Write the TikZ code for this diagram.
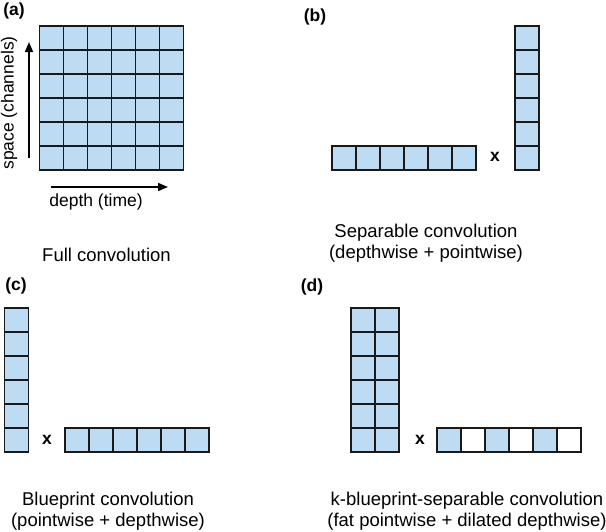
\documentclass[tikz,border=0pt]{standalone}
\usepackage{fontspec}
\setmainfont{Liberation Sans}
\usetikzlibrary{arrows.meta}
\definecolor{cellblue}{RGB}{189,220,243}
\definecolor{edge}{RGB}{25,25,25}
\begin{document}
\begin{tikzpicture}[x=1pt,y=-1pt,
  cell/.style={draw=edge, line width=1.7pt, fill=cellblue},
  emptycell/.style={draw=edge, line width=1.7pt, fill=white},
  lbl/.style={font=\fontsize{17.5}{20}\selectfont\bfseries, inner sep=0},
  timesx/.style={font=\fontsize{17.5}{20}\selectfont\bfseries, inner sep=0},
  captext/.style={font=\fontsize{18.5}{21}\selectfont, inner sep=0, anchor=base},
  axislbl/.style={font=\fontsize{17.5}{20}\selectfont, inner sep=0},
  axis/.style={line width=1.6pt, -{Triangle[length=10pt,width=8pt]}}]
\useasboundingbox (0,0) rectangle (606,531);

% ---------- (a) ----------
\node[lbl] (la) at (14,11) {(a)};
\foreach \i in {0,...,5}
  \foreach \j in {0,...,5}
    \draw[cell] (39.5+24*\i,26+24*\j) rectangle ++(24,24);
\coordinate (va) at (29,158);
\coordinate (vb) at (29,42);
\coordinate (ha) at (51,187);
\coordinate (hb) at (168,187);
\draw[axis] (va) -- (vb);
\draw[axis] (ha) -- (hb);
\node[axislbl, rotate=90] (space) at (9,103) {space (channels)};
\node[axislbl] (depth) at (96,202) {depth (time)};
\node[captext] (capa) at (106.5,261.5) {Full convolution};

% ---------- (b) ----------
\node[lbl] (lb) at (315,17) {(b)};
\foreach \i in {0,...,5}
  \draw[cell] (332+24*\i,146) rectangle ++(24,24);
\node[timesx] (xb) at (495,157) {x};
\foreach \j in {0,...,5}
  \draw[cell] (515,26+24*\j) rectangle ++(24,24);
\node[captext] (capb1) at (426,237) {Separable convolution};
\node[captext] (capb2) at (426,258) {(depthwise + pointwise)};

% ---------- (c) ----------
\node[lbl] (lc) at (16,286) {(c)};
\foreach \j in {0,...,5}
  \draw[cell] (4.5,308+24*\j) rectangle ++(24,24);
\node[timesx] (xc) at (47,440) {x};
\foreach \i in {0,...,5}
  \draw[cell] (65+24*\i,428) rectangle ++(24,24);
\node[captext] (capc1) at (108,505) {Blueprint convolution};
\node[captext] (capc2) at (108,526) {(pointwise + depthwise)};

% ---------- (d) ----------
\node[lbl] (ld) at (312,287) {(d)};
\foreach \i in {0,1}
  \foreach \j in {0,...,5}
    \draw[cell] (351+24*\i,308+24*\j) rectangle ++(24,24);
\node[timesx] (xd) at (420,440) {x};
\foreach \i/\s in {0/cell,1/emptycell,2/cell,3/emptycell,4/cell,5/emptycell}
  \draw[\s] (437+24*\i,428) rectangle ++(24,24);
\node[captext] (capd1) at (467,505) {k-blueprint-separable convolution};
\node[captext] (capd2) at (467,526) {(fat pointwise + dilated depthwise)};
\end{tikzpicture}
\end{document}
